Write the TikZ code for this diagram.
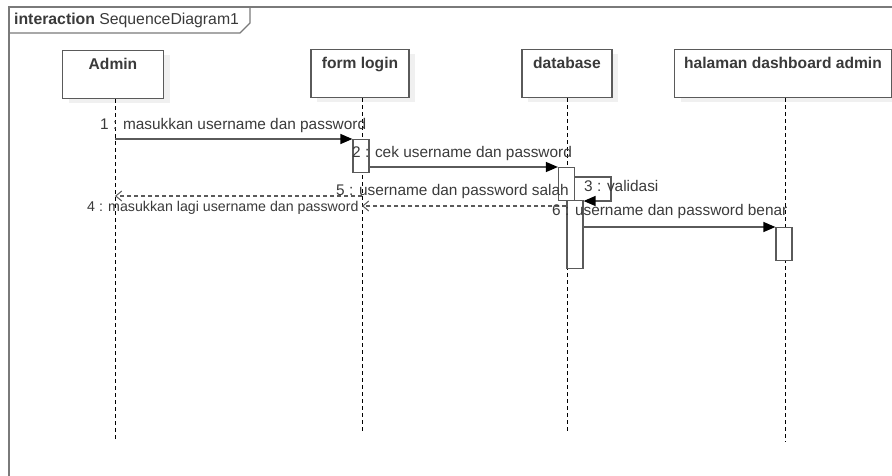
\documentclass[tikz,border=0pt]{standalone}
\usepackage{fontspec}
\setmainfont{Liberation Sans}
\usetikzlibrary{arrows.meta,calc,shadows}

\definecolor{linegray}{HTML}{5A5A5A}
\definecolor{framegray}{HTML}{7A7A7A}
\definecolor{textgray}{HTML}{3A3A3A}

\tikzset{
  participant/.style={draw=linegray, line width=1.2pt, fill=white,
    minimum height=48pt, text height=11pt, text depth=21pt, inner ysep=8pt,
    anchor=north, font=\bfseries\fontsize{15.6}{17}\selectfont, text=textgray,
    drop shadow={shadow xshift=6pt, shadow yshift=-4pt, fill=black!6, opacity=1}},
  lifeline/.style={draw=black, line width=1pt, dash pattern=on 4pt off 3pt},
  activation/.style={draw=linegray, line width=1.2pt, fill=white,
    minimum width=16pt, inner sep=0pt, anchor=north},
  msg/.style={draw=linegray, line width=1.3pt,
    -{Triangle[length=12pt,width=10pt,fill=black,color=black]}},
  reply/.style={draw=linegray, line width=1.1pt, dash pattern=on 4pt off 3pt,
    -{Straight Barb[length=6pt,width=10pt,line width=1pt]}},
  msglabel/.style={anchor=west, inner sep=0pt, text=textgray,
    font=\fontsize{15.4}{17}\selectfont},
}

\begin{document}
\begin{tikzpicture}[x=1pt, y=-1pt]
\useasboundingbox (0,0) rectangle (892,475);
\clip (0,0) rectangle (892,475);

% interaction frame and its name tab
\draw[framegray, line width=1.3pt] (9,480) -- (9,7) -- (900,7);
\draw[framegray, line width=1.3pt] (9,33) -- (240,33) -- (250,23) -- (250,7);
\node[anchor=west, inner sep=0pt, text=textgray, font=\fontsize{15.8}{17}\selectfont]
  (frametitle) at (14,20) {\textbf{interaction} SequenceDiagram1};

% participants
\node[participant, minimum width=101pt] (admin) at (113,50) {Admin};
\node[participant, minimum width=98pt]  (form)  at (360,49) {form login};
\node[participant, minimum width=90pt]  (db)    at (567,49) {database};
\node[participant, minimum width=217pt] (dash)  at (783,49) {halaman dashboard admin};

% lifeline ends
\coordinate (adminend) at (115,442);
\coordinate (formend)  at (362,432);
\coordinate (dbend)    at (567,432);
\coordinate (dashend)  at (785,442);

\draw[lifeline] (adminend |- admin.south) -- (adminend);
\draw[lifeline] (formend |- form.south) -- (formend);
\draw[lifeline] (dbend |- db.south) -- (dbend);
\draw[lifeline] (dashend |- dash.south) -- (dashend);

% activation bars
\node[activation, minimum height=33pt] (formact) at (361,139) {};
\node[activation, minimum height=33pt] (dbact)   at (566.5,167) {};
\node[activation, minimum height=68pt] (dbact2)  at (575,200) {};
\node[activation, minimum height=33pt] (dashact) at (784,227) {};

% message levels for the replies
\coordinate (y4) at (0,196);
\coordinate (y5) at (0,206);

% messages
\draw[msg] (adminend |- formact.north west) -- (formact.north west);
\draw[msg] (formact.east |- dbact.north west) -- (dbact.north west);
\draw[msg] ($(dbact.north east)+(0,10)$) -- ($(dbact.north east)+(36,10)$)
  |- ($(dbact2.north east)+(0,1)$);
\draw[reply] (formend |- y4) -- (adminend |- y4);
\draw[reply] (dbact2.west |- y5) -- (formend |- y5);
\draw[msg] (dbact2.east |- dashact.north west) -- (dashact.north west);

% message labels
\node[msglabel] (l1) at (100,126) {1 : masukkan username dan password};
\node[msglabel] (l2) at (352,154) {2 : cek username dan password};
\node[msglabel] (l3) at (584,186) {3 : validasi};
\node[msglabel] (l5) at (336,192) {5 : username dan password salah};
\node[msglabel, font=\fontsize{14.2}{16}\selectfont] (l4) at (87,208)
  {4 : masukkan lagi username dan password};
\node[msglabel] (l6) at (552,212) {6 : username dan password benar};
\end{tikzpicture}
\end{document}
